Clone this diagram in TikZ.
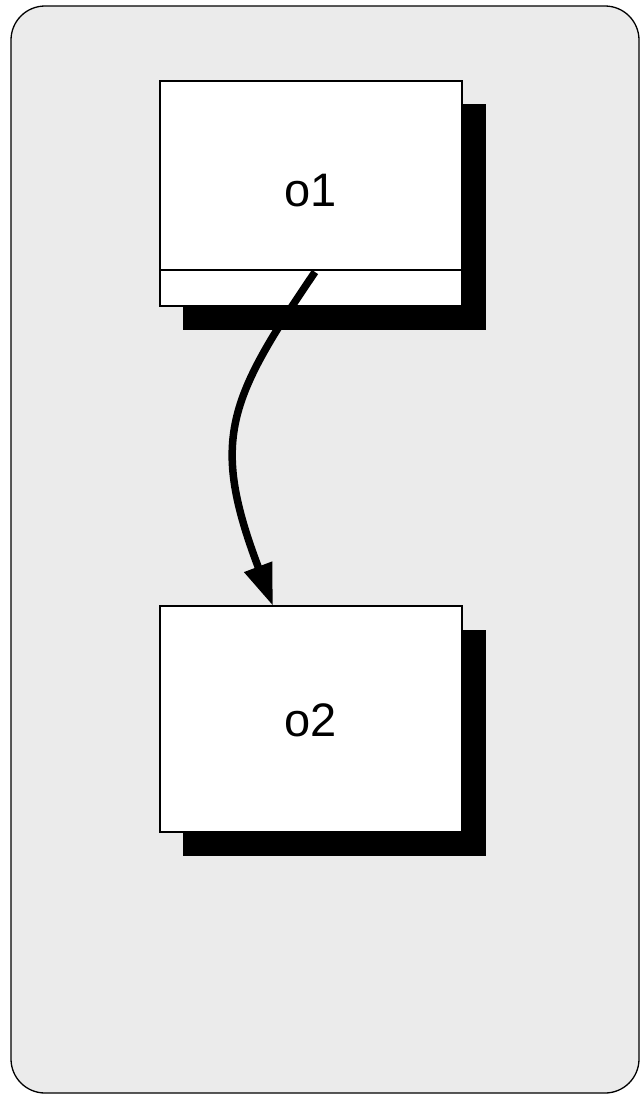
\documentclass[tikz,border=0pt]{standalone}
\usepackage{fontspec}
\setmainfont{Liberation Sans}
\usetikzlibrary{arrows.meta}
\definecolor{panelgray}{HTML}{EBEBEB}
\begin{document}
\begin{tikzpicture}[x=1pt,y=-1pt,
  objbox/.style={draw=black,line width=1.3pt,fill=white},
  shadowbox/.style={fill=black},
  lbl/.style={font=\fontsize{47}{50}\selectfont},
  link/.style={line width=7.5pt,-{Triangle[length=42pt,width=28pt]}}]
  \useasboundingbox (0,0) rectangle (641,1095);
  % panel
  \draw[fill=panelgray,draw=black,line width=1.3pt,rounded corners=34pt] (11,6) rectangle (639,1093);
  % object o1 with shadow and compartment line
  \fill[shadowbox] (183,104) rectangle (486,330);
  \draw[objbox] (160,81) rectangle (462,306);
  \draw[line width=1.3pt] (160,270) -- (462,270);
  \node[lbl] (o1) at (311,191) {o1};
  % object o2 with shadow
  \fill[shadowbox] (183,630) rectangle (486,856);
  \draw[objbox] (160,606) rectangle (462,832);
  \node[lbl] (o2) at (311,720) {o2};
  % link from o1 to o2
  \coordinate (s) at (315,272);
  \coordinate (t) at (273,606);
  \draw[link] (s) .. controls (228,400) and (210,440) .. (t);
\end{tikzpicture}
\end{document}
